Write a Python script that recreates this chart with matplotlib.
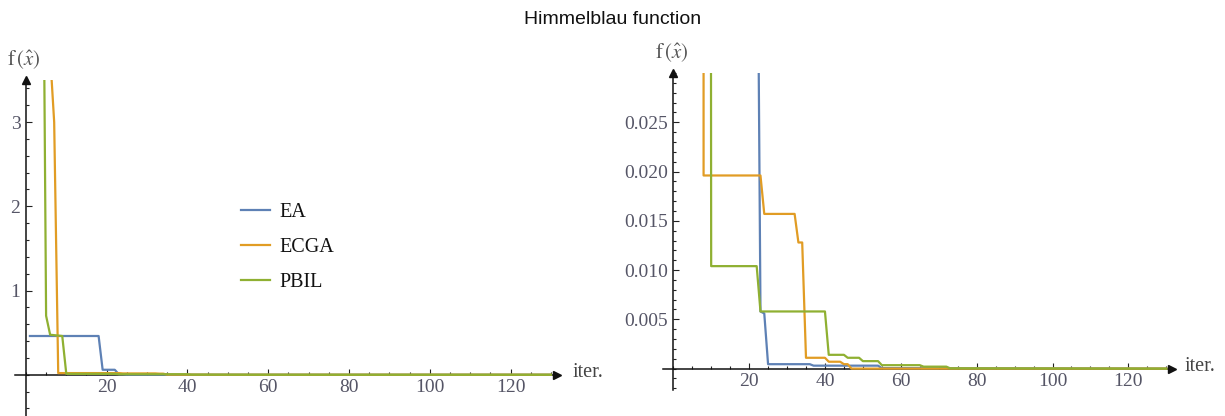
import matplotlib
matplotlib.use('Agg')
import matplotlib.pyplot as plt
from matplotlib.ticker import FixedLocator, MultipleLocator, FormatStrFormatter

plt.rcParams['font.family'] = ['Liberation Serif', 'DejaVu Serif']
plt.rcParams['mathtext.fontset'] = 'stix'

# best-so-far fitness per iteration (only the points where the value changes)
ea_iter = [1, 18, 19, 22, 23, 24, 25, 36, 37, 54, 55, 130]
ea_val = [0.46, 0.46, 0.059, 0.059, 0.0058, 0.0056, 0.00045, 0.00045,
          0.0003, 0.0003, 0.00005, 0.0]

ecga_iter = [6, 7, 8, 23, 24, 32, 33, 34, 35, 40, 41, 44, 45, 46, 47, 130]
ecga_val = [3.8, 3.0, 0.0196, 0.0196, 0.0157, 0.0157, 0.0128, 0.0128,
            0.0011, 0.0011, 0.0007, 0.0007, 0.00045, 0.00045, 0.0, 0.0]

pbil_iter = [4, 5, 6, 9, 10, 22, 23, 40, 41, 45, 46, 49, 50, 54, 55,
             65, 66, 72, 73, 130]
pbil_val = [7.2, 0.70, 0.475, 0.46, 0.0104, 0.0104, 0.0058, 0.0058,
            0.0014, 0.0014, 0.0011, 0.0011, 0.00076, 0.00076, 0.00035,
            0.00035, 0.0002, 0.0002, 0.00003, 0.0]

series = [
    ('EA', ea_iter, ea_val, '#5E81B5'),
    ('ECGA', ecga_iter, ecga_val, '#E19C24'),
    ('PBIL', pbil_iter, pbil_val, '#8FB032'),
]

x_major = [20, 40, 60, 80, 100, 120]
left_y_major = [1, 2, 3]
right_y_major = [0.005, 0.010, 0.015, 0.020, 0.025]

W, H = 1225, 416
fig = plt.figure(figsize=(W / 100, H / 100), dpi=100)

ax1 = fig.add_axes([15 / W, 0.0, 542 / W, (H - 80) / H])
ax2 = fig.add_axes([663 / W, 26 / H, 509 / W, (390 - 73) / H])


def style_axes(ax, ylim, y_major, y_minor, fmt, iter_off):
    ax.set_xlim(-2.7, 131.5)
    ax.set_ylim(*ylim)
    for side in ['top', 'right']:
        ax.spines[side].set_visible(False)
    ax.spines['left'].set_position(('data', 0))
    ax.spines['bottom'].set_position(('data', 0))
    for side in ['left', 'bottom']:
        ax.spines[side].set_linewidth(1.1)
        ax.spines[side].set_color('#111111')
    ax.xaxis.set_major_locator(FixedLocator(x_major))
    ax.xaxis.set_minor_locator(MultipleLocator(5))
    ax.yaxis.set_major_locator(FixedLocator(y_major))
    ax.yaxis.set_minor_locator(MultipleLocator(y_minor))
    if fmt:
        ax.yaxis.set_major_formatter(FormatStrFormatter(fmt))
    ax.tick_params(which='both', direction='in', color='#222222',
                   labelcolor='#555566', labelsize=14, width=0.8)
    ax.tick_params(which='major', length=4)
    ax.tick_params(which='minor', length=2.4)
    ax.tick_params(axis='x', pad=3)
    ax.tick_params(axis='y', pad=4)
    ax.patch.set_visible(False)
    # arrow heads
    ax.plot(1, 0, '>', color='#111111', ms=6, transform=ax.get_yaxis_transform(),
            clip_on=False, zorder=5)
    ax.plot(0, 1, '^', color='#111111', ms=6, transform=ax.get_xaxis_transform(),
            clip_on=False, zorder=5)
    ax.annotate('iter.', xy=(1, 0), xycoords=ax.get_yaxis_transform(),
                xytext=(iter_off, 2), textcoords='offset pixels',
                ha='left', va='center', fontsize=14.5, color='#444444')
    ax.annotate(r'$\mathrm{f}\,(\hat{x})$', xy=(0, 1), xycoords='axes fraction',
                xytext=(9, 20), textcoords='offset pixels',
                ha='center', va='center', fontsize=15, color='#555555')


for ax in (ax1, ax2):
    for name, xs, ys, col in series:
        ax.plot(xs, ys, color=col, lw=1.6, label=name, zorder=3)

style_axes(ax1, (-0.49, 3.5), left_y_major, 0.2, None, 16)
style_axes(ax2, (-0.00217, 0.030), right_y_major, 0.001, '%.3f', 13)

ax1.legend(loc='upper left', bbox_to_anchor=(241 / W, (H - 203) / H),
           bbox_transform=fig.transFigure, frameon=False, fontsize=14.5,
           handlelength=1.45, handletextpad=0.45, labelspacing=0.78,
           borderpad=0, borderaxespad=0, labelcolor='#111111')

fig.text(0.5, 1 - 20 / H, 'Himmelblau function', ha='center', va='center',
         fontsize=14, family='Liberation Sans', color='#111111')

fig.savefig('out.png', dpi=100)
